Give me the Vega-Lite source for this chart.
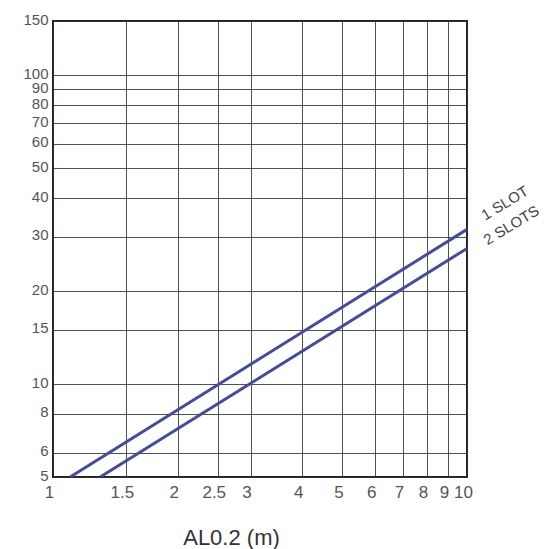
{
  "$schema": "https://vega.github.io/schema/vega-lite/v6.json",
  "autosize": "none",
  "width": 414,
  "height": 456,
  "padding": {"left": 53, "top": 21, "right": 88, "bottom": 72},
  "background": "white",
  "config": {
    "view": {"stroke": "#222", "strokeWidth": 2},
    "font": "Liberation Sans"
  },
  "datasets": {
    "lines": [
      {"series": "1 SLOT", "x": 1.1, "y": 5},
      {"series": "1 SLOT", "x": 10, "y": 31.7},
      {"series": "2 SLOTS", "x": 1.3, "y": 5},
      {"series": "2 SLOTS", "x": 10, "y": 27.5}
    ],
    "labels": [
      {"label": "1 SLOT", "x": 10, "y": 31.7},
      {"label": "2 SLOTS", "x": 10, "y": 27.5}
    ]
  },
  "layer": [
    {
      "data": {"name": "lines"},
      "mark": {"type": "line", "color": "#454c9a", "strokeWidth": 3, "clip": true},
      "encoding": {
        "x": {
          "field": "x", "type": "quantitative",
          "scale": {"type": "log", "domain": [1, 10], "nice": false},
          "axis": {
            "values": [1, 1.5, 2, 2.5, 3, 4, 5, 6, 7, 8, 9, 10],
            "title": "AL0.2 (m)",
            "titleFontSize": 22,
            "titleFontWeight": "normal",
            "titleColor": "#333",
            "titleX": 178,
            "titleY": 67,
            "titleAlign": "center",
            "titleBaseline": "alphabetic",
            "labelFontSize": 17,
            "labelColor": "#555",
            "labelPadding": 7,
            "labelOffset": -4,
            "ticks": false,
            "domain": false,
            "grid": true,
            "gridColor": "#333",
            "gridWidth": 1,
            "gridOpacity": 0.85,
            "labelFlush": false,
            "labelOverlap": false
          }
        },
        "y": {
          "field": "y", "type": "quantitative",
          "scale": {"type": "log", "domain": [5, 150], "nice": false},
          "axis": {
            "values": [5, 6, 8, 10, 15, 20, 30, 40, 50, 60, 70, 80, 90, 100, 150],
            "title": null,
            "labelFontSize": 15,
            "labelColor": "#555",
            "labelPadding": 5,
            "labelOffset": -2,
            "ticks": false,
            "domain": false,
            "grid": true,
            "gridColor": "#333",
            "gridWidth": 1,
            "gridOpacity": 0.85,
            "labelFlush": false,
            "labelOverlap": false
          }
        },
        "detail": {"field": "series"}
      }
    },
    {
      "data": {"name": "labels"},
      "transform": [{"filter": "datum.label === '1 SLOT'"}],
      "mark": {"type": "text", "angle": -31, "fontSize": 15, "color": "#444", "clip": false, "align": "center", "baseline": "middle", "dx": 46, "dy": -3},
      "encoding": {
        "x": {"field": "x", "type": "quantitative"},
        "y": {"field": "y", "type": "quantitative"},
        "text": {"field": "label"}
      }
    },
    {
      "data": {"name": "labels"},
      "transform": [{"filter": "datum.label === '2 SLOTS'"}],
      "mark": {"type": "text", "angle": -31, "fontSize": 15, "color": "#444", "clip": false, "align": "center", "baseline": "middle", "dx": 50, "dy": 3},
      "encoding": {
        "x": {"field": "x", "type": "quantitative"},
        "y": {"field": "y", "type": "quantitative"},
        "text": {"field": "label"}
      }
    }
  ]
}
